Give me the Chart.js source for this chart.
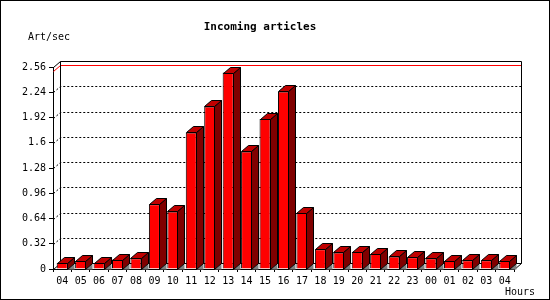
<!DOCTYPE html>
<html><head><meta charset="utf-8">
<script src="https://cdn.jsdelivr.net/npm/chart.js@4/dist/chart.umd.min.js"></script>
<style>html,body{margin:0;padding:0;background:#fff}#c{display:block}</style>
</head><body>
<canvas id="c" width="550" height="300"></canvas>
<script>
const hours = ['04','05','06','07','08','09','10','11','12','13','14','15','16','17','18','19','20','21','22','23','00','01','02','03','04'];
const artPerSec = [0.08,0.10,0.08,0.12,0.135,0.82,0.73,1.73,2.06,2.49,1.49,1.90,2.25,0.71,0.25,0.21,0.22,0.19,0.16,0.15,0.135,0.10,0.11,0.11,0.10];
const yTicks = [0,0.32,0.64,0.96,1.28,1.6,1.92,2.24,2.56];
const yTickLabels = ['0','0.32','0.64','0.96','1.28','1.6','1.92','2.24','2.56'];
const peakRate = 2.51;
const chartTitle = 'Incoming articles';
const yUnit = 'Art/sec';
const xUnit = 'Hours';

const DX = 7, DY = 6;
const MONO = '"DejaVu Sans Mono", "Liberation Mono", monospace';

function line(ctx, pts, color, dash) {
  ctx.save();
  ctx.strokeStyle = color; ctx.lineWidth = 1;
  ctx.setLineDash(dash || []);
  ctx.beginPath();
  pts.forEach((p, i) => i ? ctx.lineTo(p[0] + 0.5, p[1] + 0.5) : ctx.moveTo(p[0] + 0.5, p[1] + 0.5));
  ctx.stroke();
  ctx.restore();
}
function poly(ctx, pts, fill, stroke) {
  ctx.save();
  ctx.beginPath();
  pts.forEach((p, i) => i ? ctx.lineTo(p[0] + 0.5, p[1] + 0.5) : ctx.moveTo(p[0] + 0.5, p[1] + 0.5));
  ctx.closePath();
  ctx.fillStyle = fill; ctx.fill();
  if (stroke) { ctx.strokeStyle = stroke; ctx.lineWidth = 1; ctx.stroke(); }
  ctx.restore();
}

const frame3d = {
  id: 'frame3d',
  beforeDraw(chart) {
    const ctx = chart.ctx;
    ctx.save();
    ctx.fillStyle = '#fff';
    ctx.fillRect(0, 0, chart.width, chart.height);
    ctx.strokeStyle = '#000'; ctx.lineWidth = 1;
    ctx.strokeRect(0.5, 0.5, chart.width - 1, chart.height - 1);
    ctx.fillStyle = '#000';
    ctx.textBaseline = 'middle';
    ctx.font = 'bold 11px ' + MONO;
    ctx.textAlign = 'center';
    ctx.fillText(chartTitle, 260, 27);
    ctx.font = '10px ' + MONO;
    ctx.textAlign = 'left';
    ctx.fillText(yUnit, 28, 37);
    ctx.textAlign = 'right';
    ctx.fillText(xUnit, 535, 292);
    ctx.restore();
  },
  beforeDatasetsDraw(chart) {
    const ctx = chart.ctx, a = chart.chartArea, ys = chart.scales.y;
    const L = Math.round(a.left), R = Math.round(a.right), T = Math.round(a.top), B = Math.round(a.bottom);
    // back wall grid (dotted)
    yTicks.forEach(v => {
      if (v === 0 || v === yTicks[yTicks.length - 1]) return;
      const y = Math.round(ys.getPixelForValue(v));
      line(ctx, [[L, y], [L + DX, y - DY], [R + DX, y - DY]], '#000', [2, 2]);
    });
    // peak line
    const yp = Math.round(ys.getPixelForValue(peakRate));
    line(ctx, [[L, yp], [L + DX, yp - DY], [R + DX, yp - DY]], '#ff0000');
    // frame
    line(ctx, [[L, T], [L + DX, T - DY], [R + DX, T - DY], [R + DX, B - DY], [R, B]], '#000');
    line(ctx, [[L + DX, T - DY], [L + DX, B - DY], [R + DX, B - DY]], '#000');
    line(ctx, [[L, B], [L + DX, B - DY]], '#000');
    // shadows on floor
    const meta = chart.getDatasetMeta(0);
    meta.data.forEach(el => {
      const p = el.getProps(['x', 'width', 'base'], true);
      const r = Math.round(p.x + p.width / 2) - 1, b = Math.round(p.base);
      poly(ctx, [[r, b], [r + DX, b - DY], [r + DX, b]], '#808080');
    });
  },
  afterDatasetsDraw(chart) {
    const ctx = chart.ctx;
    const meta = chart.getDatasetMeta(0);
    meta.data.forEach(el => {
      const p = el.getProps(['x', 'y', 'width', 'base'], true);
      const l = Math.round(p.x - p.width / 2), r = Math.round(p.x + p.width / 2) - 1;
      const t = Math.round(p.y), b = Math.round(p.base);
      poly(ctx, [[r, t], [r + DX, t - DY], [r + DX, b - DY], [r, b]], '#800000', '#000');
      poly(ctx, [[l, t], [l + DX, t - DY], [r + DX, t - DY], [r, t]], '#c00000', '#000');
    });
  }
};

new Chart(document.getElementById('c'), {
  type: 'bar',
  data: {
    labels: hours,
    datasets: [{
      data: artPerSec,
      backgroundColor: '#ff0000',
      borderColor: '#000000',
      borderWidth: 1,
      categoryPercentage: 1,
      barPercentage: 0.6
    }]
  },
  options: {
    responsive: false,
    animation: false,
    devicePixelRatio: 1,
    layout: { padding: { left: 0, top: 67, right: 36, bottom: 0 } },
    plugins: { legend: { display: false }, title: { display: false }, tooltip: { enabled: false } },
    scales: {
      x: {
        afterFit(s) { s.height = 31; },
        grid: { display: true, drawOnChartArea: false, drawTicks: true, tickLength: 3, color: '#000', offset: true },
        border: { display: true, color: '#000' },
        ticks: { color: '#000', font: { family: MONO, size: 10 }, padding: 3, maxRotation: 0, autoSkip: false }
      },
      y: {
        min: 0, max: 2.56,
        afterFit(s) { s.width = 53; },
        afterBuildTicks(s) { s.ticks = yTicks.map(v => ({ value: v })); },
        grid: { display: true, drawOnChartArea: false, drawTicks: true, tickLength: 4, color: '#000' },
        border: { display: true, color: '#000' },
        ticks: {
          color: '#000', font: { family: MONO, size: 10 }, padding: 3,
          callback(v, i) { return yTickLabels[i]; }
        }
      }
    }
  },
  plugins: [frame3d]
});
</script>
</body></html>
